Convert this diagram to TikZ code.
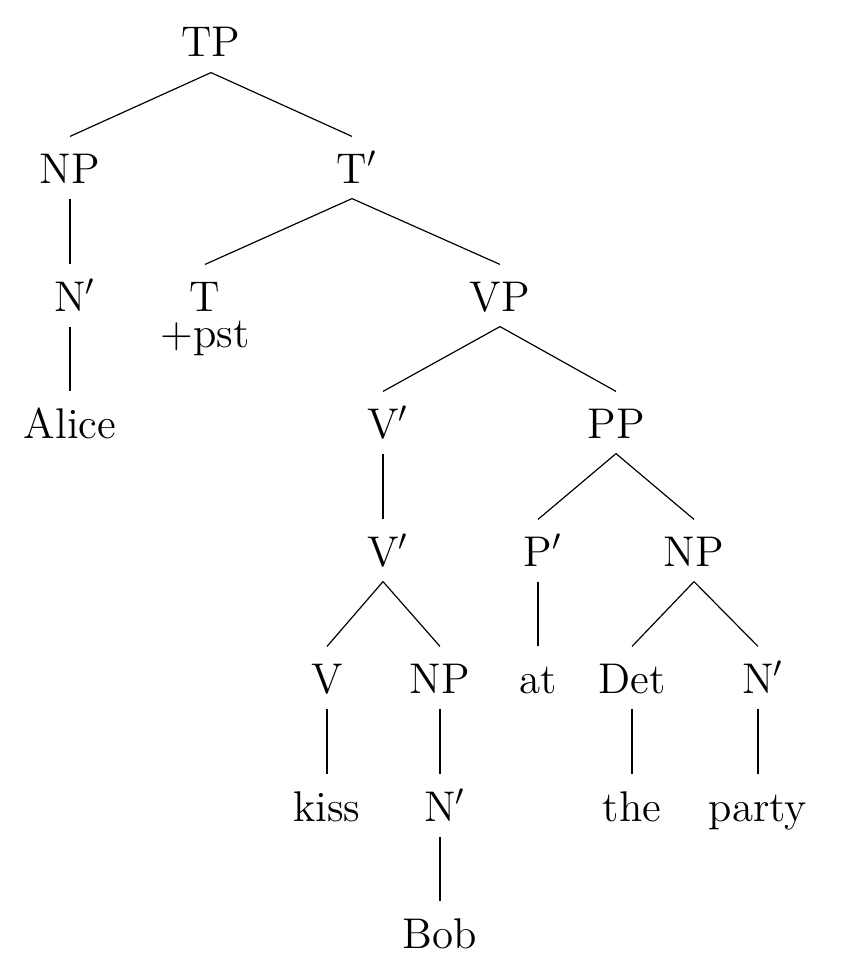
\documentclass[tikz,border=0pt]{standalone}
\begin{document}
\begin{tikzpicture}[x=0.3353pt,y=-0.3353pt,
  lab/.style={font=\Large, anchor=base, inner sep=0pt, text height=15.42pt, text depth=5.03pt},
  head/.style={font=\Large, anchor=base, inner sep=0pt, text height=15.42pt, text depth=0pt},
  feat/.style={font=\Large, anchor=base, inner sep=0pt},
  branch/.style={draw=black, line width=0.4pt}]
\useasboundingbox (0,0) rectangle (844,977);
% level 0
\node[lab] (TP) at (211,57) {TP};
% level 1
\node[lab] (NPa) at (70,183) {NP};
\node[lab] (Tbar) at (352,183) {T\rlap{$'$}};
% level 2
\node[lab] (Nbara) at (70,311) {N\rlap{$'$}};
\node[head] (T) at (205,311) {T};
\node[feat] (Tf) at (205,347) {+pst};
\node[lab] (VP) at (500,311) {VP};
% level 3
\node[lab] (Alice) at (70,438) {Alice};
\node[lab] (Vbara) at (383,438) {V\rlap{$'$}};
\node[lab] (PP) at (616,438) {PP};
% level 4
\node[lab] (Vbarb) at (383,566) {V\rlap{$'$}};
\node[lab] (Pbar) at (538,566) {P\rlap{$'$}};
\node[lab] (NPb) at (694,566) {NP};
% level 5
\node[lab] (V) at (327,693) {V};
\node[lab] (NPc) at (440,693) {NP};
\node[lab] (at) at (538,693) {at};
\node[lab] (Det) at (632,693) {Det};
\node[lab] (Nbarb) at (758,693) {N\rlap{$'$}};
% level 6
\node[lab] (kiss) at (327,821) {kiss};
\node[lab] (Nbarc) at (440,821) {N\rlap{$'$}};
\node[lab] (the) at (632,821) {the};
\node[lab] (party) at (758,821) {party};
% level 7
\node[lab] (Bob) at (440,948) {Bob};
% branches
\path[branch] (TP.south) -- (NPa.north);
\path[branch] (TP.south) -- (Tbar.north);
\path[branch] (NPa.south) -- (Nbara.north);
\path[branch] (Nbara.south) -- (Alice.north);
\path[branch] (Tbar.south) -- (T.north);
\path[branch] (Tbar.south) -- (VP.north);
\path[branch] (VP.south) -- (Vbara.north);
\path[branch] (VP.south) -- (PP.north);
\path[branch] (Vbara.south) -- (Vbarb.north);
\path[branch] (Vbarb.south) -- (V.north);
\path[branch] (Vbarb.south) -- (NPc.north);
\path[branch] (V.south) -- (kiss.north);
\path[branch] (NPc.south) -- (Nbarc.north);
\path[branch] (Nbarc.south) -- (Bob.north);
\path[branch] (PP.south) -- (Pbar.north);
\path[branch] (PP.south) -- (NPb.north);
\path[branch] (Pbar.south) -- (at.north);
\path[branch] (NPb.south) -- (Det.north);
\path[branch] (NPb.south) -- (Nbarb.north);
\path[branch] (Det.south) -- (the.north);
\path[branch] (Nbarb.south) -- (party.north);
\end{tikzpicture}
\end{document}
